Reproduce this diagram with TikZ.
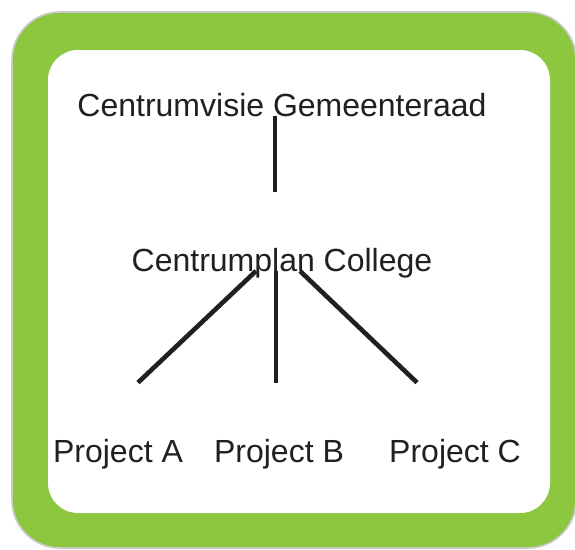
\documentclass[tikz,border=0pt]{standalone}
\usepackage{fontspec}
\setmainfont{Liberation Sans}
\usepackage{xcolor}
\definecolor{CPGreen}{HTML}{8DC63F}
\definecolor{CPEdge}{HTML}{C9CACB}
\definecolor{CPInk}{HTML}{231F20}
\tikzset{
  label/.style={inner sep=0pt,anchor=base,text=CPInk,font=\fontsize{32}{38}\selectfont},
  link/.style={draw=CPInk,line width=4.6pt}
}
\begin{document}
\begin{tikzpicture}[x=1pt,y=-1pt]
\path[use as bounding box] (0,0) rectangle (575,549);
\filldraw[fill=CPGreen,draw=CPEdge,line width=1.6pt,rounded corners=48pt] (12,12) rectangle (576,548);
\fill[white,rounded corners=30pt] (48,50) rectangle (550,513);
\node[label] (visie) at (282,116) {Centrumvisie Gemeenteraad};
\node[label] (plan) at (282,271) {Centrumplan College};
\node[label] (projA) at (118,462) {Project A};
\node[label] (projB) at (279,462) {Project B};
\node[label] (projC) at (455,462) {Project C};
\draw[link] ([xshift=-7pt]visie.base) -- ([xshift=-7pt,yshift=56pt]plan.north);
\draw[link] ([xshift=-26pt]plan.base) -- ([xshift=20pt,yshift=56pt]projA.north);
\draw[link] ([xshift=-6pt]plan.base) -- ([xshift=-3pt,yshift=56pt]projB.north);
\draw[link] ([xshift=18pt]plan.base) -- ([xshift=-38pt,yshift=56pt]projC.north);
\end{tikzpicture}
\end{document}
